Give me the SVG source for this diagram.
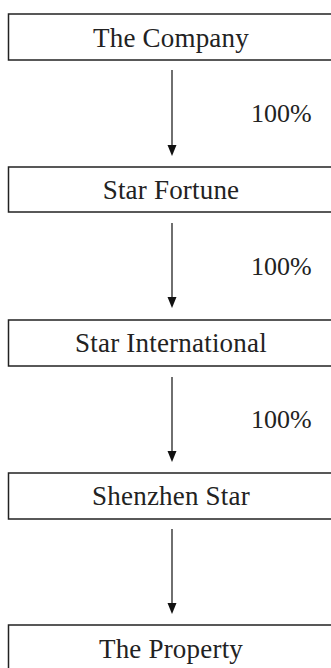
<svg xmlns="http://www.w3.org/2000/svg" width="331" height="668" viewBox="0 0 331 668">
<defs>
<style>
.box{fill:#fff;stroke:#222;stroke-width:1.5}
.t{font-family:"Liberation Serif","Times New Roman",serif;font-size:27px;letter-spacing:0.2px;fill:#222}
.p{font-size:26px;letter-spacing:0}
.c{text-anchor:middle}
.ln{stroke:#222;stroke-width:1.3;fill:none}
.hd{fill:#111}
</style>
</defs>
<rect width="331" height="668" fill="#fff"/>
<g id="connectors">
<line class="ln" x1="172" y1="70" x2="172" y2="148"/>
<polygon class="hd" points="167.5,145 176.5,145 172,156"/>
<line class="ln" x1="172" y1="223" x2="172" y2="300"/>
<polygon class="hd" points="167.5,297 176.5,297 172,308"/>
<line class="ln" x1="172" y1="377" x2="172" y2="454"/>
<polygon class="hd" points="167.5,451 176.5,451 172,462"/>
<line class="ln" x1="172" y1="529" x2="172" y2="606"/>
<polygon class="hd" points="167.5,603 176.5,603 172,614"/>
<text class="t p" x="251" y="122">100%</text>
<text class="t p" x="251" y="275">100%</text>
<text class="t p" x="251" y="428">100%</text>
</g>
<g id="company">
<rect class="box" x="8.5" y="14" width="340" height="46"/>
<text class="t c" x="171" y="47">The Company</text>
</g>
<g id="star-fortune">
<rect class="box" x="8.5" y="167" width="340" height="45"/>
<text class="t c" x="171" y="199">Star Fortune</text>
</g>
<g id="star-international">
<rect class="box" x="8.5" y="320" width="340" height="46"/>
<text class="t c" x="171" y="352">Star International</text>
</g>
<g id="shenzhen-star">
<rect class="box" x="8.5" y="473" width="340" height="46"/>
<text class="t c" x="171" y="505">Shenzhen Star</text>
</g>
<g id="property">
<rect class="box" x="8.5" y="625" width="340" height="60"/>
<text class="t c" x="171" y="658">The Property</text>
</g>
</svg>
